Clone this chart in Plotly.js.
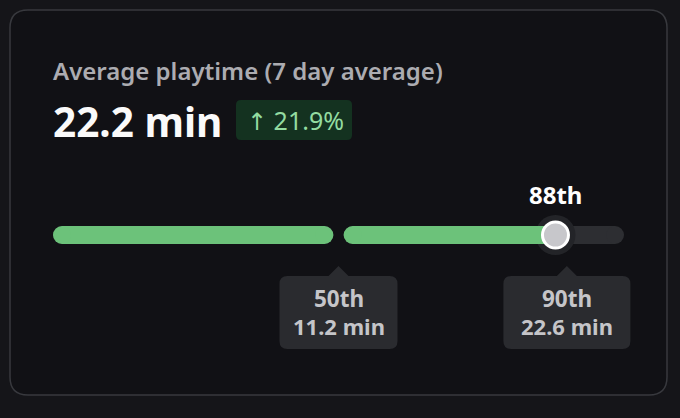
<!DOCTYPE html>
<html>
<head>
<meta charset="utf-8">
<script src="https://cdn.plot.ly/plotly-3.0.1.min.js"></script>
<style>
  html, body { margin: 0; padding: 0; background: #151519; }
  #chart { width: 680px; height: 418px; }
</style>
</head>
<body>
<div id="chart"></div>
<script>
// ---- data ----
const metricTitle = "Average playtime (7 day average)";
const metricValue = "22.2 min";
const changeArrow = "↑";
const changeText = "21.9%";
const segmentStarts = [0, 50.9];      // percentile track segments
const segmentEnds = [49.1, 100];
const currentPercentile = 88;
const currentLabel = "88th";
const benchmarkPercentiles = [50, 90];
const benchmarkLabels = ["50th", "90th"];
const benchmarkValues = ["11.2 min", "22.6 min"];

// ---- style ----
const W = 680, H = 418;
const trackLeftPx = 53, trackRightPx = 624, trackY = 235, trackThick = 18;
const tooltipWidths = [118, 127];
const FONT = "Noto Sans, sans-serif";
const green = "#6cc27a", grayTrack = "#2d2e32";

const pxPerUnit = (trackRightPx - trackLeftPx) / 100;
const capU = (trackThick / 2) / pxPerUnit;

function px(x) { return x / W; }
function py(y) { return 1 - y / H; }
function roundRectPaper(x0, y0, x1, y1, r) {
  const P = (x, y) => px(x) + "," + py(y);
  return "M" + P(x0 + r, y0) + " L" + P(x1 - r, y0) + " Q" + P(x1, y0) + " " + P(x1, y0 + r) +
    " L" + P(x1, y1 - r) + " Q" + P(x1, y1) + " " + P(x1 - r, y1) +
    " L" + P(x0 + r, y1) + " Q" + P(x0, y1) + " " + P(x0, y1 - r) +
    " L" + P(x0, y0 + r) + " Q" + P(x0, y0) + " " + P(x0 + r, y0) + " Z";
}
function tooltipPath(w, top, bottom, r, tip) {
  const h = w / 2;
  return "M" + (-h + r) + "," + top + " L" + (-10) + "," + top + " L0," + (top - tip) + " L10," + top +
    " L" + (h - r) + "," + top + " Q" + h + "," + top + " " + h + "," + (top + r) +
    " L" + h + "," + (bottom - r) + " Q" + h + "," + bottom + " " + (h - r) + "," + bottom +
    " L" + (-h + r) + "," + bottom + " Q" + (-h) + "," + bottom + " " + (-h) + "," + (bottom - r) +
    " L" + (-h) + "," + (top + r) + " Q" + (-h) + "," + top + " " + (-h + r) + "," + top + " Z";
}

function capsule(x0, x1, color, name) {
  const a = x0 + capU, b = x1 - capU;
  return {
    type: "scatter", mode: "lines+markers", name: name,
    x: [a, b], y: [trackY, trackY],
    line: { color: color, width: trackThick },
    marker: { color: color, size: trackThick, line: { width: 0 } },
    hoverinfo: "skip", showlegend: false, cliponaxis: false
  };
}

const traces = [];
segmentStarts.forEach((s, i) => traces.push(capsule(s, segmentEnds[i], grayTrack, "track" + i)));
traces.push({
  type: "scatter", mode: "markers", x: [currentPercentile], y: [trackY],
  marker: { color: "#232428", size: 40, line: { width: 0 } }, hoverinfo: "skip", showlegend: false
});
segmentStarts.forEach((s, i) => {
  const e = Math.min(segmentEnds[i], currentPercentile);
  if (e > s) {
    const t = capsule(s, e, green, "fill" + i);
    if (e === currentPercentile) { t.x[1] = e; }
    traces.push(t);
  }
});
traces.push({
  type: "scatter", mode: "markers", x: [currentPercentile], y: [trackY],
  marker: { color: "#c7c7cb", size: 26, line: { color: "#ffffff", width: 3 } },
  hoverinfo: "skip", showlegend: false
});

const shapes = [
  { type: "path", xref: "paper", yref: "paper", path: roundRectPaper(10, 10, 667, 395, 18),
    fillcolor: "#111115", line: { color: "#38393e", width: 1.5 }, layer: "below" },
  { type: "path", xref: "paper", yref: "paper", path: roundRectPaper(236, 100, 352, 140, 5),
    fillcolor: "#143220", line: { width: 0 }, layer: "below" }
];
benchmarkPercentiles.forEach((p, i) => {
  shapes.push({
    type: "path", xref: "x", yref: "y", xsizemode: "pixel", xanchor: p,
    path: tooltipPath(tooltipWidths[i], 276, 349, 8, 10),
    fillcolor: "#2a2b2f", line: { width: 0 }, layer: "below"
  });
});

const annotations = [
  { xref: "paper", yref: "y", x: px(51), y: 70, xanchor: "left", yanchor: "middle",
    text: metricTitle, showarrow: false,
    font: { family: FONT, size: 24, color: "#acacb1", weight: 600 } },
  { xref: "paper", yref: "y", x: px(51), y: 121, xanchor: "left", yanchor: "middle",
    text: "<b>" + metricValue + "</b>", showarrow: false,
    font: { family: FONT, size: 40.5, color: "#fafafa" } },
  { xref: "paper", yref: "y", x: px(295), y: 120, xanchor: "center", yanchor: "middle",
    text: "<span style=\"font-family:'DejaVu Sans';font-size:24px\">" + changeArrow +
          "</span> " + changeText, showarrow: false,
    font: { family: FONT, size: 25, color: "#93dca0" } },
  { xref: "x", yref: "y", x: currentPercentile, y: 194, xanchor: "center", yanchor: "middle",
    text: "<b>" + currentLabel + "</b>", showarrow: false,
    font: { family: FONT, size: 24, color: "#ffffff" } }
];
benchmarkPercentiles.forEach((p, i) => {
  annotations.push({ xref: "x", yref: "y", x: p, y: 298, xanchor: "center", yanchor: "middle",
    text: "<b>" + benchmarkLabels[i] + "</b>", showarrow: false,
    font: { family: FONT, size: 22.5, color: "#c5c5c9" } });
  annotations.push({ xref: "x", yref: "y", x: p, y: 326, xanchor: "center", yanchor: "middle",
    text: "<b>" + benchmarkValues[i] + "</b>", showarrow: false,
    font: { family: FONT, size: 22, color: "#c5c5c9" } });
});

const layout = {
  width: W, height: H,
  margin: { l: 0, r: 0, t: 0, b: 0 },
  paper_bgcolor: "#151519", plot_bgcolor: "rgba(0,0,0,0)",
  xaxis: { range: [-trackLeftPx / pxPerUnit, 100 + (W - trackRightPx) / pxPerUnit], domain: [0, 1],
           visible: false, fixedrange: true },
  yaxis: { range: [H, 0], domain: [0, 1], visible: false, fixedrange: true },
  shapes: shapes, annotations: annotations, showlegend: false
};

Plotly.newPlot("chart", traces, layout, { displayModeBar: false, staticPlot: true });
</script>
</body>
</html>
